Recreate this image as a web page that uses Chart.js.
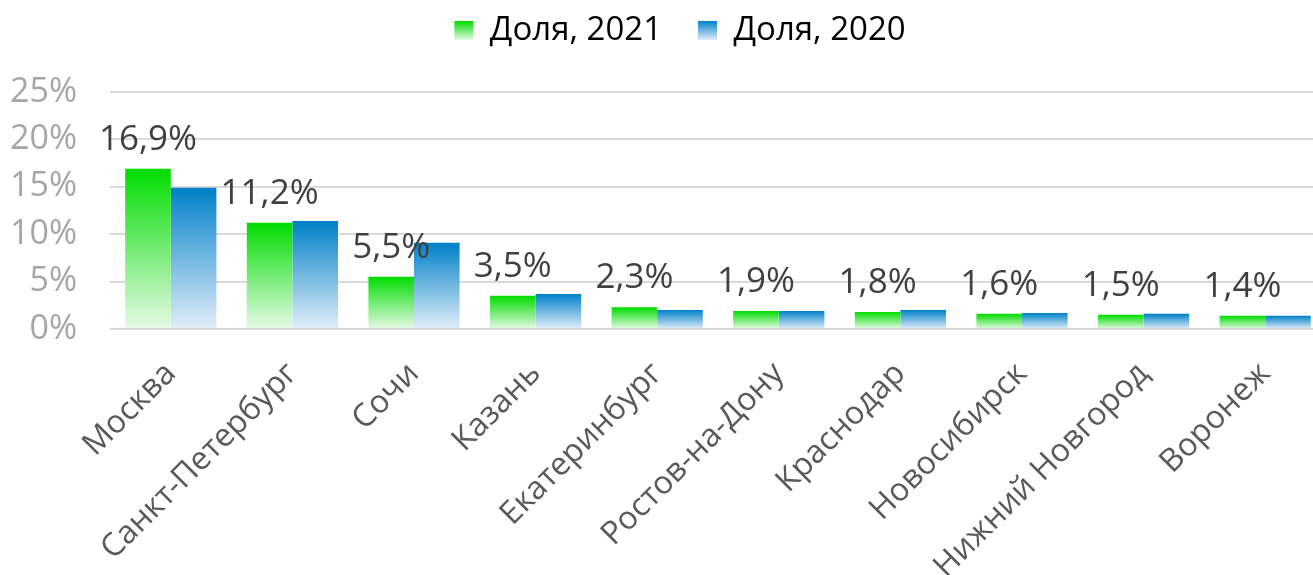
<!DOCTYPE html>
<html>
<head>
<meta charset="utf-8">
<script src="https://cdn.jsdelivr.net/npm/chart.js@4"></script>
<style>
  html, body { margin: 0; padding: 0; background: #fff; overflow: hidden; }
  #wrap { width: 1330px; height: 575px; position: relative; }
</style>
</head>
<body>
<div id="wrap"><canvas id="chart"></canvas></div>
<script>
var cities = ["Москва", "Санкт-Петербург", "Сочи", "Казань", "Екатеринбург",
              "Ростов-на-Дону", "Краснодар", "Новосибирск", "Нижний Новгород", "Воронеж"];
var share2021 = [16.9, 11.2, 5.5, 3.5, 2.3, 1.9, 1.8, 1.6, 1.5, 1.4];
var share2020 = [14.9, 11.4, 9.1, 3.7, 2.0, 1.9, 2.0, 1.7, 1.6, 1.4];
var yTicks = [0, 5, 10, 15, 20, 25];

var FONT = "'Open Sans', 'DejaVu Sans', sans-serif";

// vertical gradient for each bar, from its top down to the zero line
function barGradient(top, bottom) {
  return function(context) {
    var chart = context.chart;
    var y = chart.scales.y;
    if (!y || context.type !== 'data') return top;
    var yTop = y.getPixelForValue(context.raw);
    var yBase = y.getPixelForValue(0);
    if (!isFinite(yTop) || yTop === yBase) return top;
    var g = chart.ctx.createLinearGradient(0, yTop, 0, yBase);
    g.addColorStop(0, top);
    g.addColorStop(1, bottom);
    return g;
  };
}

// legend boxes are drawn before the shift applied in legendSpace
function legendGradient(ctx, top, bottom) {
  var g = ctx.createLinearGradient(0, 43, 0, 62);
  g.addColorStop(0, top);
  g.addColorStop(1, bottom);
  return g;
}

var GREEN = ["#00dc00", "#e6fae6"];
var BLUE = ["#0080c8", "#e2eef9"];

var labelPlugin = {
  id: 'labels2021',
  afterDatasetsDraw: function(chart) {
    var ctx = chart.ctx;
    var meta = chart.getDatasetMeta(0);
    ctx.save();
    ctx.font = "35px " + FONT;
    ctx.fillStyle = "#404040";
    ctx.textAlign = "center";
    ctx.textBaseline = "alphabetic";
    meta.data.forEach(function(bar, i) {
      ctx.fillText(share2021[i].toFixed(1).replace('.', ',') + '%', bar.x, bar.y - 19);
    });
    ctx.restore();
  }
};

// fixed height for the legend block, and shift it into place
var legendSpace = {
  id: 'legendSpace',
  beforeInit: function(chart) {
    var lg = chart.legend;
    var fit = lg.fit;
    lg.fit = function() {
      fit.call(this);
      this.height = 92;
    };
    var draw = lg.draw;
    lg.draw = function(area) {
      chart.ctx.save();
      chart.ctx.translate(17, -22);
      draw.call(this, area);
      chart.ctx.restore();
    };
  }
};

new Chart(document.getElementById("chart"), {
  type: 'bar',
  data: {
    labels: cities,
    datasets: [
      {
        label: "Доля, 2021",
        data: share2021,
        backgroundColor: barGradient(GREEN[0], GREEN[1]),
        categoryPercentage: 0.75,
        barPercentage: 1.0
      },
      {
        label: "Доля, 2020",
        data: share2020,
        backgroundColor: barGradient(BLUE[0], BLUE[1]),
        categoryPercentage: 0.75,
        barPercentage: 1.0
      }
    ]
  },
  options: {
    responsive: true,
    maintainAspectRatio: false,
    animation: false,
    layout: { padding: { left: 0, right: 4, top: 0, bottom: 0 } },
    plugins: {
      tooltip: { enabled: false },
      legend: {
        position: 'top',
        labels: {
          font: { size: 33, family: FONT },
          color: "#595959",
          boxWidth: 19,
          boxHeight: 19,
          padding: 36,
          generateLabels: function(chart) {
            var cols = [GREEN, BLUE];
            return chart.data.datasets.map(function(ds, i) {
              return {
                text: ds.label,
                fillStyle: legendGradient(chart.ctx, cols[i][0], cols[i][1]),
                strokeStyle: 'rgba(0,0,0,0)',
                lineWidth: 0,
                datasetIndex: i,
                hidden: false
              };
            });
          }
        }
      }
    },
    scales: {
      x: {
        grid: { display: false },
        border: { display: false },
        ticks: {
          color: "#595959",
          font: { size: 32, family: FONT },
          minRotation: 45,
          maxRotation: 45,
          autoSkip: false,
          padding: 18
        },
        afterFit: function(scale) { scale.height = 246; }
      },
      y: {
        min: 0,
        max: 25,
        afterBuildTicks: function(scale) {
          scale.ticks = yTicks.map(function(v) { return { value: v }; });
        },
        grid: { color: "#d9d9d9", lineWidth: 2, drawTicks: false },
        border: { display: false },
        ticks: {
          color: "#a6a6a6",
          font: { size: 34, family: FONT },
          padding: 33,
          autoSkip: false,
          callback: function(v) { return v + '%'; }
        },
        afterFit: function(scale) { scale.width = 110; }
      }
    }
  },
  plugins: [labelPlugin, legendSpace]
});
</script>
</body>
</html>
